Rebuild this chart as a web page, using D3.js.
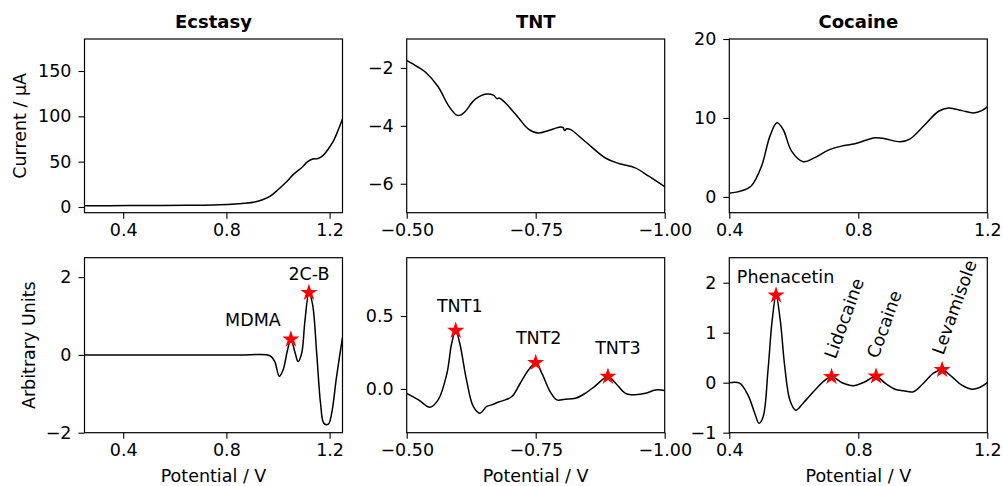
<!DOCTYPE html>
<html>
<head>
<meta charset="utf-8">
<script src="https://cdn.jsdelivr.net/npm/d3@7"></script>
<style>
  body { margin: 0; background: #fff; }
  svg { display: block; font-family: "DejaVu Sans", sans-serif; }
</style>
</head>
<body>
<svg id="chart" width="1003" height="486"></svg>
<script>
// ---------- data ----------
const titles = ["Ecstasy", "TNT", "Cocaine"];

// Ecstasy: raw voltammogram (µA) and processed signal
const ecstasyPotential = [0.25, 0.35, 0.45, 0.55, 0.65, 0.75, 0.82, 0.87, 0.91, 0.94, 0.97, 1.0, 1.03, 1.06, 1.09, 1.115, 1.135, 1.155, 1.175, 1.195, 1.215, 1.235, 1.25];
const ecstasyCurrent   = [1.5, 1.5, 1.6, 1.7, 1.9, 2.3, 3.0, 4.0, 5.5, 8, 12, 19, 27, 36, 43, 50, 53, 53.5, 57, 64, 73, 86, 97];
const ecstasySigPotential = [0.25, 0.4, 0.55, 0.7, 0.85, 0.96, 0.975, 0.988, 1.005, 1.02, 1.036, 1.05, 1.066, 1.078, 1.092, 1.104, 1.12, 1.134, 1.15, 1.165, 1.178, 1.195, 1.208, 1.227, 1.25];
const ecstasySignal       = [0, 0, 0, 0, 0, 0, -0.05, -0.18, -0.55, -0.38, 0.1, 0.40, 0.06, -0.17, 0.05, 0.85, 1.6, 1.3, 0.04, -1.25, -1.76, -1.78, -1.5, -0.56, 0.45];
const ecstasyPeakNames = ["MDMA", "2C-B"];
const ecstasyPeakPotential = [1.05, 1.12];
const ecstasyPeakSignal = [0.40, 1.6];

// TNT (reduction, negative potentials)
const tntPotential = [-0.5, -0.52, -0.536, -0.561, -0.581, -0.597, -0.605, -0.613, -0.633, -0.655, -0.668, -0.675, -0.679, -0.691, -0.717, -0.736, -0.755, -0.775, -0.798, -0.803, -0.806, -0.81, -0.817, -0.846, -0.885, -0.911, -0.943, -0.969, -1.0];
const tntCurrent   = [-1.74, -1.95, -2.14, -2.65, -3.30, -3.63, -3.62, -3.51, -3.08, -2.90, -2.94, -3.06, -3.04, -3.2, -3.73, -4.11, -4.25, -4.16, -4.04, -4.06, -4.16, -4.1, -4.12, -4.54, -5.11, -5.30, -5.45, -5.74, -6.10];
const tntSigPotential = [-0.5, -0.523, -0.545, -0.561, -0.578, -0.587, -0.595, -0.603, -0.616, -0.629, -0.642, -0.655, -0.665, -0.678, -0.691, -0.704, -0.72, -0.736, -0.75, -0.762, -0.778, -0.791, -0.807, -0.827, -0.846, -0.865, -0.89, -0.904, -0.924, -0.943, -0.963, -0.982, -1.0];
const tntSignal       = [-0.03, -0.075, -0.125, -0.075, 0.107, 0.31, 0.40, 0.31, 0.06, -0.12, -0.166, -0.12, -0.109, -0.09, -0.075, -0.052, 0.039, 0.13, 0.18, 0.107, -0.018, -0.075, -0.07, -0.064, -0.03, 0.02, 0.085, 0.043, -0.03, -0.04, -0.03, -0.007, -0.01];
const tntPeakNames = ["TNT1", "TNT2", "TNT3"];
const tntPeakPotential = [-0.595, -0.75, -0.89];
const tntPeakSignal = [0.40, 0.18, 0.085];

// Cocaine sample
const cocainePotential = [0.4, 0.437, 0.468, 0.5, 0.526, 0.548, 0.567, 0.593, 0.629, 0.665, 0.707, 0.748, 0.79, 0.852, 0.883, 0.93, 0.961, 1.007, 1.049, 1.08, 1.121, 1.157, 1.183, 1.2];
const cocaineCurrent   = [0.47, 0.76, 1.39, 3.9, 7.7, 9.38, 8.54, 5.8, 4.46, 4.97, 5.93, 6.43, 6.73, 7.49, 7.36, 6.98, 7.36, 9.17, 10.85, 11.27, 10.93, 10.64, 10.93, 11.4];
const cocaineSigPotential = [0.4, 0.432, 0.458, 0.479, 0.492, 0.505, 0.52, 0.533, 0.545, 0.558, 0.572, 0.588, 0.606, 0.629, 0.665, 0.697, 0.717, 0.753, 0.784, 0.821, 0.855, 0.883, 0.914, 0.94, 0.971, 1.002, 1.033, 1.06, 1.09, 1.121, 1.152, 1.178, 1.2];
const cocaineSignal       = [0, -0.01, -0.25, -0.61, -0.81, -0.68, 0.25, 1.25, 1.75, 1.25, 0.32, -0.35, -0.55, -0.41, -0.15, 0.05, 0.12, -0.01, -0.06, 0.02, 0.13, -0.01, -0.13, -0.16, -0.18, -0.01, 0.19, 0.26, 0.12, -0.05, -0.13, -0.09, 0];
const cocainePeakNames = ["Phenacetin", "Lidocaine", "Cocaine", "Levamisole"];
const cocainePeakPotential = [0.545, 0.717, 0.855, 1.06];
const cocainePeakSignal = [1.75, 0.12, 0.13, 0.26];

// tick values
const ecstasyPotentialTicks = [0.4, 0.8, 1.2];
const ecstasyCurrentTicks = [0, 50, 100, 150];
const ecstasySignalTicks = [-2, 0, 2];
const tntPotentialTicks = [-0.5, -0.75, -1.0];
const tntCurrentTicks = [-6, -4, -2];
const tntSignalTicks = [0.0, 0.5];
const cocainePotentialTicks = [0.4, 0.8, 1.2];
const cocaineCurrentTicks = [0, 10, 20];
const cocaineSignalTicks = [-1, 0, 1, 2];

// ---------- layout ----------
const FS = 17.5;
const colLeft = [84.5, 406.7, 729.3];
const panelW = 258;
const rowTop = [39, 257.7];
const panelH = [173.7, 175];

const zipPts = (xs, ys) => xs.map((x, i) => [x, ys[i]]);

const panels = [
  { col: 0, row: 0, xDom: [0.25, 1.25], yDom: [-6.3, 185.3], pts: zipPts(ecstasyPotential, ecstasyCurrent),
    xTicks: ecstasyPotentialTicks, xFmt: d3.format(".1f"), yTicks: ecstasyCurrentTicks, yFmt: d3.format("d"),
    title: titles[0], ylabel: "Current / µA" },
  { col: 1, row: 0, xDom: [-0.5, -1.0], yDom: [-7, -1], pts: zipPts(tntPotential, tntCurrent),
    xTicks: tntPotentialTicks, xFmt: d3.format(".2f"), yTicks: tntCurrentTicks, yFmt: d3.format("d"),
    title: titles[1] },
  { col: 2, row: 0, xDom: [0.4, 1.2], yDom: [-2, 20], pts: zipPts(cocainePotential, cocaineCurrent),
    xTicks: cocainePotentialTicks, xFmt: d3.format(".1f"), yTicks: cocaineCurrentTicks, yFmt: d3.format("d"),
    title: titles[2] },
  { col: 0, row: 1, xDom: [0.25, 1.25], yDom: [-2, 2.5], pts: zipPts(ecstasySigPotential, ecstasySignal),
    xTicks: ecstasyPotentialTicks, xFmt: d3.format(".1f"), yTicks: ecstasySignalTicks, yFmt: d3.format("d"),
    ylabel: "Arbitrary Units", xlabel: "Potential / V",
    peaks: { names: ecstasyPeakNames, xs: ecstasyPeakPotential, ys: ecstasyPeakSignal },
    labelStyle: { offsets: [[-38, -13], [0, -13]], rotate: 0 } },
  { col: 1, row: 1, xDom: [-0.5, -1.0], yDom: [-0.3, 0.9], pts: zipPts(tntSigPotential, tntSignal),
    xTicks: tntPotentialTicks, xFmt: d3.format(".2f"), yTicks: tntSignalTicks, yFmt: d3.format(".1f"),
    xlabel: "Potential / V",
    peaks: { names: tntPeakNames, xs: tntPeakPotential, ys: tntPeakSignal },
    labelStyle: { offsets: [[4, -18.5], [3, -18.5], [10, -22.5]], rotate: 0 } },
  { col: 2, row: 1, xDom: [0.4, 1.2], yDom: [-1, 2.5], pts: zipPts(cocaineSigPotential, cocaineSignal),
    xTicks: cocainePotentialTicks, xFmt: d3.format(".1f"), yTicks: cocaineSignalTicks, yFmt: d3.format("d"),
    xlabel: "Potential / V",
    peaks: { names: cocainePeakNames, xs: cocainePeakPotential, ys: cocainePeakSignal },
    labelStyle: { offsets: [[9.5, -12.5], [4, -17], [2, -17], [1, -14]], rotate: [0, -70, -70, -70] } }
];

const svg = d3.select("#chart");
const star = d3.symbol().type(d3.symbolStar).size(92);

panels.forEach(p => {
  const x0 = colLeft[p.col], y0 = rowTop[p.row], h = panelH[p.row];
  const x = d3.scaleLinear().domain(p.xDom).range([x0, x0 + panelW]);
  const y = d3.scaleLinear().domain(p.yDom).range([y0 + h, y0]);
  const g = svg.append("g");

  // clip
  const clipId = `clip-${p.row}-${p.col}`;
  g.append("clipPath").attr("id", clipId)
    .append("rect").attr("x", x0).attr("y", y0).attr("width", panelW).attr("height", h);

  // axes
  const xa = g.append("g").attr("transform", `translate(0,${y0 + h})`)
    .call(d3.axisBottom(x).tickValues(p.xTicks).tickFormat(p.xFmt).tickSize(6).tickPadding(5));
  const ya = g.append("g").attr("transform", `translate(${x0},0)`)
    .call(d3.axisLeft(y).tickValues(p.yTicks).tickFormat(p.yFmt).tickSize(6).tickPadding(7));
  [xa, ya].forEach(a => {
    a.select(".domain").remove();
    a.selectAll(".tick line").attr("stroke", "#000").attr("stroke-width", 1.1);
    a.selectAll(".tick text").attr("fill", "#000").style("font-size", FS + "px")
      .style("font-family", '"DejaVu Sans", sans-serif');
  });

  // curve
  const line = d3.line().x(d => x(d[0])).y(d => y(d[1])).curve(d3.curveCatmullRom.alpha(0.5));
  g.append("path").datum(p.pts).attr("d", line)
    .attr("fill", "none").attr("stroke", "#000").attr("stroke-width", 1.5)
    .attr("clip-path", `url(#${clipId})`);

  // peaks
  if (p.peaks) {
    const pk = p.peaks;
    pk.names.forEach((name, i) => {
      const cx = x(pk.xs[i]), cy = y(pk.ys[i]);
      g.append("path").attr("d", star).attr("transform", `translate(${cx},${cy})`)
        .attr("fill", "#ff0000").attr("stroke", "none");
      const off = p.labelStyle.offsets[i];
      const rot = Array.isArray(p.labelStyle.rotate) ? p.labelStyle.rotate[i] : p.labelStyle.rotate;
      g.append("text")
        .attr("transform", `translate(${cx + off[0]},${cy + off[1]}) rotate(${rot})`)
        .attr("text-anchor", rot === 0 ? "middle" : "start")
        .style("font-size", FS + "px").attr("fill", "#000")
        .text(name);
    });
  }

  // frame
  g.append("rect").attr("x", x0).attr("y", y0).attr("width", panelW).attr("height", h)
    .attr("fill", "none").attr("stroke", "#000").attr("stroke-width", 1.2);

  if (p.title) {
    g.append("text").attr("x", x0 + panelW / 2).attr("y", 28).attr("text-anchor", "middle")
      .style("font-size", "18px").style("font-weight", "bold").text(p.title);
  }
  if (p.xlabel) {
    g.append("text").attr("x", x0 + panelW / 2).attr("y", 482).attr("text-anchor", "middle")
      .style("font-size", FS + "px").text(p.xlabel);
  }
  if (p.ylabel) {
    const bx = p.row === 0 ? 26 : 34.5;
    g.append("text").attr("transform", `translate(${bx},${y0 + h / 2}) rotate(-90)`)
      .attr("text-anchor", "middle").style("font-size", FS + "px").text(p.ylabel);
  }
});
</script>
</body>
</html>
